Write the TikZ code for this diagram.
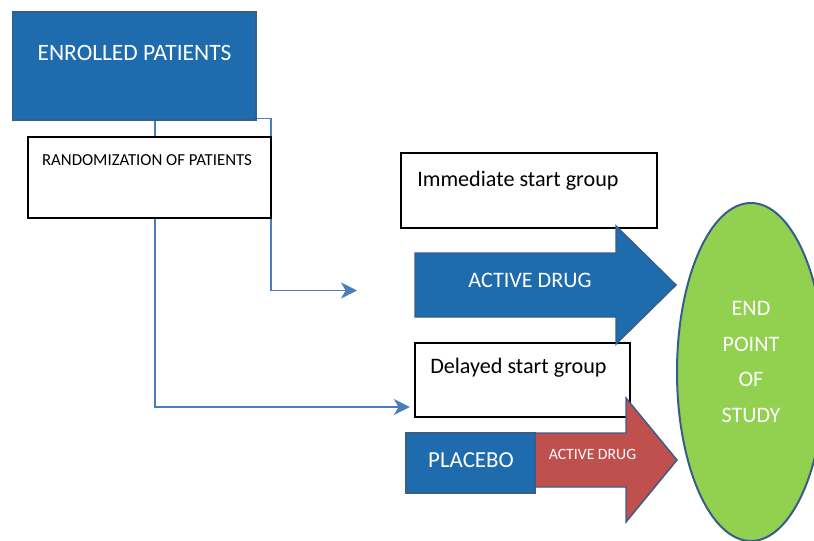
\documentclass[tikz,border=0pt]{standalone}
\usepackage{fontspec}
\setmainfont{Carlito}
\usetikzlibrary{arrows.meta}
\definecolor{fillblue}{HTML}{1E6BAD}
\definecolor{edgeblue}{HTML}{385D8A}
\definecolor{linkblue}{HTML}{4A7EBB}
\definecolor{drugred}{HTML}{C0504D}
\definecolor{endgreen}{HTML}{92D050}

\begin{document}
\begin{tikzpicture}[x=0.75pt,y=-0.75pt,
    bluebox/.style={draw=edgeblue,line width=0.9pt,fill=fillblue,inner sep=0pt},
    whitebox/.style={draw=black,line width=1.7pt,fill=white,inner sep=0pt},
    bigarrow/.style={draw=edgeblue,line width=1.1pt,line join=miter},
    link/.style={draw=linkblue,line width=1.2pt,-{Stealth[length=12pt,width=12pt,inset=3.5pt]}},
    txt/.style={inner sep=0pt,font=\fontsize{#1}{#1}\selectfont}]
    \useasboundingbox (0,0) rectangle (814,540);
    \clip (0,0) rectangle (814,540);
    % Boxes
    \node[bluebox,minimum width=182.6pt,minimum height=81pt] (enrolled) at (134.25,66) {};
    \node[whitebox,minimum width=192pt,minimum height=56.25pt] (immediate) at (529,190.5) {};
    \node[whitebox,minimum width=161.25pt,minimum height=55.5pt] (delayed) at (522.5,380) {};
    \coordinate (adrug) at (357,290.5); % free end, first group
    % Connectors, drawn below the randomization box
    \draw[link] ([yshift=1.5pt]enrolled.south east) -- ++(14.5,0) |- (adrug);
    \draw[link] ([xshift=15.75pt]enrolled.south) |- ([xshift=-3pt,yshift=-20.25pt]delayed.west);
    \node[whitebox,minimum width=182.25pt,minimum height=60.75pt] (random) at (149.5,177.5) {};
    % End point
    \draw[draw=edgeblue,line width=1.5pt,fill=endgreen] (751,372) ellipse [x radius=74,y radius=169];
    % Big arrows
    \draw[bigarrow,fill=fillblue] (415,253) -- (616,253) -- (616,226) -- (676,285)
        -- (616,344) -- (616,317) -- (415,317) -- cycle;
    \draw[bigarrow,fill=drugred] (535,433) -- (626,433) -- (626,398) -- (677,460)
        -- (626,522) -- (626,487) -- (535,487) -- cycle;
    \node[bluebox,minimum width=96.75pt,minimum height=45pt] (placebo) at (470.5,463) {};
    % Texts
    \node[txt=17.6pt,white,anchor=base] (t-enrolled) at (134.5,60) {ENROLLED PATIENTS};
    \node[txt=12.6pt,anchor=base] (t-random) at (147,165) {RANDOMIZATION OF PATIENTS};
    \node[txt=16.6pt,anchor=base west] (t-immediate) at (417,186) {Immediate start group};
    \node[txt=16.6pt,anchor=base west] (t-delayed) at (430,373) {Delayed start group};
    \node[txt=16.6pt,white,anchor=base] (t-active) at (530,287) {ACTIVE DRUG};
    \node[txt=17.2pt,white,anchor=base] (t-placebo) at (471,467) {PLACEBO};
    \node[txt=11.8pt,white,anchor=base] (t-later) at (592.5,459.5) {ACTIVE DRUG};
    \node[txt=16.6pt,white,align=center] (t-end) at (751,362)
        {END\\[10pt]POINT\\[10pt]OF\\[10pt]STUDY};
\end{tikzpicture}
\end{document}
